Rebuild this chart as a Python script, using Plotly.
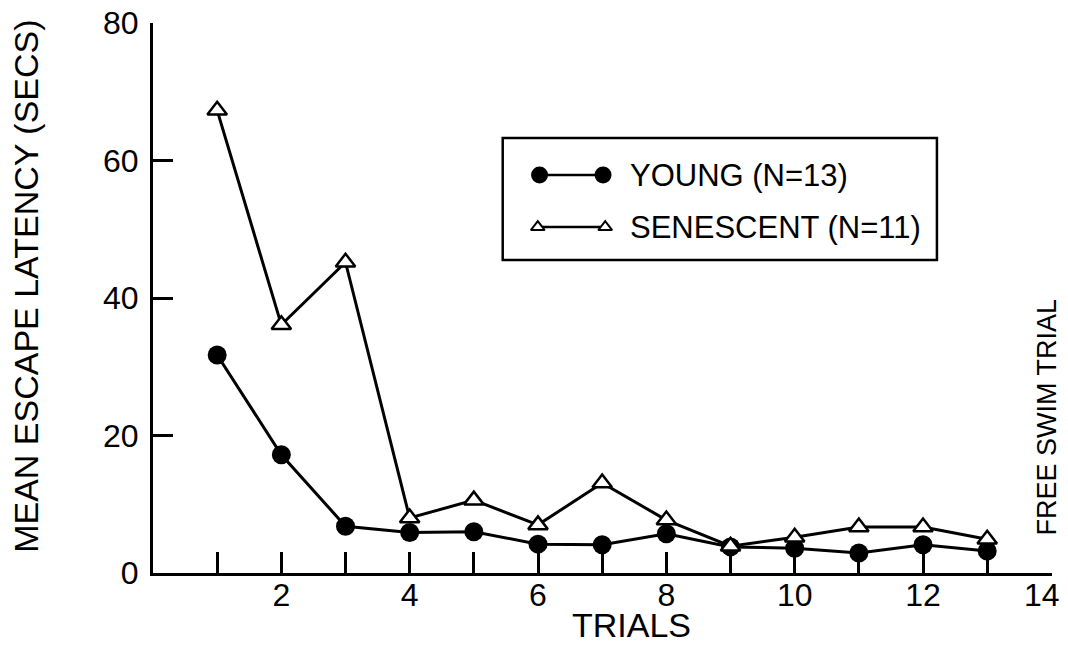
import plotly.graph_objects as go

trials = list(range(1, 14))
young = [31.7, 17.2, 6.8, 5.9, 6.0, 4.2, 4.1, 5.7, 3.8, 3.6, 2.9, 4.1, 3.2]
senescent = [67.3, 36.1, 45.2, 8.0, 10.6, 7.0, 13.1, 7.7, 3.9, 5.2, 6.7, 6.7, 4.9]
x_tickvals = list(range(1, 15))
x_ticktext = ["" if v % 2 else str(v) for v in x_tickvals]
y_tickvals = [0, 20, 40, 60, 80]
series_names = ["YOUNG (N=13)", "SENESCENT (N=11)"]

FONT = "Liberation Sans"
BLACK = "black"

# the last tick label sits at the very right edge; it is drawn as an
# annotation nudged inward so that it is not clipped by the page edge
last_label = x_ticktext[-1]
axis_ticktext = x_ticktext[:-1] + [""]

fig = go.Figure()
fig.add_trace(go.Scatter(
    x=trials, y=young, mode="lines+markers", name=series_names[0],
    line=dict(color=BLACK, width=3),
    marker=dict(symbol="circle", size=19, color=BLACK),
    showlegend=False, cliponaxis=False))
fig.add_trace(go.Scatter(
    x=trials, y=senescent, mode="lines+markers", name=series_names[1],
    line=dict(color=BLACK, width=3),
    marker=dict(symbol="triangle-up", size=17, color="white",
                line=dict(color=BLACK, width=2.5)),
    showlegend=False, cliponaxis=False))

# legend glyphs on an overlay axis spanning the plot area (0..1)
lg_young_y = 0.7236
lg_sen_y = 0.629
fig.add_trace(go.Scatter(
    x=[0.430, 0.5006], y=[lg_young_y, lg_young_y], xaxis="x2", yaxis="y2",
    mode="lines+markers", line=dict(color=BLACK, width=2.5),
    marker=dict(symbol="circle", size=17, color=BLACK), showlegend=False,
    hoverinfo="skip", cliponaxis=False))
fig.add_trace(go.Scatter(
    x=[0.428, 0.503], y=[lg_sen_y, lg_sen_y], xaxis="x2", yaxis="y2",
    mode="lines+markers", line=dict(color=BLACK, width=2.5),
    marker=dict(symbol="triangle-up", size=12, color="white",
                line=dict(color=BLACK, width=2)), showlegend=False,
    hoverinfo="skip", cliponaxis=False))

fig.update_layout(
    width=1052, height=636,
    margin=dict(l=145, r=8, t=15, b=71),
    paper_bgcolor="white", plot_bgcolor="white",
    font=dict(family=FONT, color=BLACK, size=32),
    xaxis=dict(range=[0, 14.01], tickvals=x_tickvals, ticktext=axis_ticktext,
               ticks="inside", ticklen=21, tickwidth=2.5, tickcolor=BLACK,
               showline=True, linecolor=BLACK, linewidth=3, showgrid=False,
               zeroline=False, tickfont=dict(size=32), ticklabelstandoff=-8,
               automargin=False, ticklabeloverflow="allow"),
    yaxis=dict(range=[0, 80], tickvals=y_tickvals,
               ticks="inside", ticklen=20, tickwidth=2.5, tickcolor=BLACK,
               showline=True, linecolor=BLACK, linewidth=3, showgrid=False,
               zeroline=False, tickfont=dict(size=32), ticklabelstandoff=5,
               automargin=False, ticklabeloverflow="allow"),
    xaxis2=dict(range=[0, 1], overlaying="x", visible=False, fixedrange=True),
    yaxis2=dict(range=[0, 1], overlaying="y", visible=False, fixedrange=True),
)

# legend box
fig.add_shape(type="rect", xref="paper", yref="paper",
              x0=0.389, x1=0.872, y0=0.569, y1=0.791,
              line=dict(color=BLACK, width=2.5), fillcolor="rgba(0,0,0,0)")

fig.add_annotation(text=series_names[0], xref="paper", yref="paper",
                   x=0.528, y=lg_young_y, xanchor="left", yanchor="middle",
                   showarrow=False, font=dict(size=31))
fig.add_annotation(text=series_names[1], xref="paper", yref="paper",
                   x=0.528, y=lg_sen_y, xanchor="left", yanchor="middle",
                   showarrow=False, font=dict(size=31))

fig.add_annotation(text=last_label, xref="paper", yref="paper",
                   x=1.0115, y=-0.040, xanchor="right", yanchor="middle",
                   showarrow=False, font=dict(size=32))

# axis titles
fig.add_annotation(text="TRIALS", xref="paper", yref="paper",
                   x=0.532, y=-0.095, xanchor="center", yanchor="middle",
                   showarrow=False, font=dict(size=34))
fig.add_annotation(text="MEAN ESCAPE LATENCY (SECS)", xref="paper", yref="paper",
                   x=-0.1413, y=0.522, xanchor="center", yanchor="middle",
                   textangle=-90, showarrow=False, font=dict(size=34))
fig.add_annotation(text="FREE SWIM TRIAL", xref="paper", yref="paper",
                   x=0.994, y=0.284, xanchor="center", yanchor="middle",
                   textangle=-90, showarrow=False, font=dict(size=27))

fig.write_html("out.html")
